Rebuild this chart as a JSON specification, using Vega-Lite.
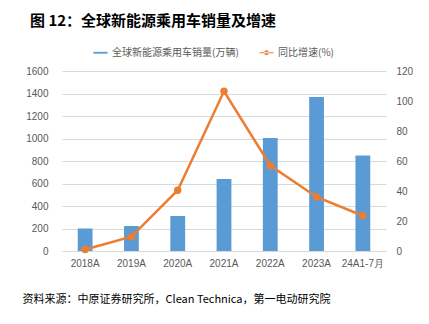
{
  "$schema": "https://vega.github.io/schema/vega-lite/v6.json",
  "width": 324,
  "height": 180,
  "autosize": {"type": "none"},
  "padding": {"left": 62, "top": 71, "right": 43, "bottom": 73},
  "background": "white",
  "title": {
    "text": "图 12：全球新能源乘用车销量及增速",
    "anchor": "start",
    "frame": "group",
    "dx": -32,
    "offset": 16,
    "font": "Noto Sans CJK SC",
    "fontSize": 15,
    "fontWeight": "bold",
    "color": "#000000"
  },
  "data": {
    "values": [
      {"year": "2018A", "sales": 200, "growth": 1},
      {"year": "2019A", "sales": 222, "growth": 9.5},
      {"year": "2020A", "sales": 311, "growth": 40.5},
      {"year": "2021A", "sales": 640, "growth": 106.5},
      {"year": "2022A", "sales": 1004, "growth": 57},
      {"year": "2023A", "sales": 1369, "growth": 36},
      {"year": "24A1-7月", "sales": 848, "growth": 23.5}
    ]
  },
  "encoding": {
    "x": {
      "field": "year",
      "type": "nominal",
      "sort": null,
      "scale": {"paddingInner": 0.68, "paddingOuter": 0.34},
      "axis": {
        "labelAngle": 0,
        "labelColor": "#595959",
        "labelFont": "Liberation Sans",
        "labelFontSize": 10,
        "labelPadding": 7,
        "ticks": false,
        "domainColor": "#D9D9D9",
        "title": "资料来源：中原证券研究所，Clean Technica，第一电动研究院",
        "titleFont": "Noto Sans CJK SC",
        "titleFontSize": 11,
        "titleFontWeight": "normal",
        "titleColor": "#000000",
        "titleAnchor": "start",
        "titleAlign": "left",
        "titleX": -40,
        "titleY": 48,
        "titleBaseline": "middle"
      }
    }
  },
  "layer": [
    {
      "mark": {"type": "bar", "color": "#5B9BD5"},
      "encoding": {
        "y": {
          "field": "sales",
          "type": "quantitative",
          "scale": {"domain": [0, 1600]},
          "axis": {
            "values": [0, 200, 400, 600, 800, 1000, 1200, 1400, 1600],
            "format": "d",
            "title": null,
            "domain": false,
            "ticks": false,
            "labelColor": "#595959",
            "labelFont": "Liberation Sans",
            "labelFontSize": 10,
            "labelPadding": 14,
            "gridColor": "#D9D9D9"
          }
        },
        "color": {
          "datum": "全球新能源乘用车销量(万辆)",
          "type": "nominal",
          "scale": {
            "domain": ["全球新能源乘用车销量(万辆)", "同比增速(%)"],
            "range": ["#5B9BD5", "#ED7D31"]
          },
          "legend": {
            "orient": "none",
            "direction": "horizontal",
            "legendX": 31,
            "legendY": -26,
            "title": null,
            "labelFont": "Noto Sans CJK SC",
            "labelFontSize": 10,
            "labelColor": "#595959",
            "columnPadding": 20,
            "symbolSize": 200,
            "encode": {
              "symbols": {
                "update": {
                  "shape": {"signal": "datum.value === '同比增速(%)' ? 'M-1,-0.08H1V0.08H-1Z M-0.35,0A0.35,0.35 0 1,0 0.35,0A0.35,0.35 0 1,0 -0.35,0Z' : 'M-1,-0.13H1V0.13H-1Z'"},
                  "fill": {"signal": "datum.value === '同比增速(%)' ? '#ED7D31' : '#5B9BD5'"},
                  "stroke": {"value": "transparent"},
                  "strokeWidth": {"value": 0},
                  "opacity": {"value": 1}
                }
              }
            }
          }
        }
      }
    },
    {
      "mark": {"type": "line", "color": "#ED7D31", "strokeWidth": 2.5, "point": {"filled": true, "size": 55, "color": "#ED7D31"}},
      "encoding": {
        "y": {
          "field": "growth",
          "type": "quantitative",
          "scale": {"domain": [0, 120]},
          "axis": {
            "orient": "right",
            "values": [0, 20, 40, 60, 80, 100, 120],
            "title": null,
            "domain": false,
            "ticks": false,
            "grid": false,
            "labelColor": "#595959",
            "labelFont": "Liberation Sans",
            "labelFontSize": 10,
            "labelPadding": 10
          }
        },
        "color": {
          "datum": "同比增速(%)",
          "type": "nominal"
        }
      }
    }
  ],
  "resolve": {"scale": {"y": "independent"}},
  "config": {"view": {"stroke": null}}
}
